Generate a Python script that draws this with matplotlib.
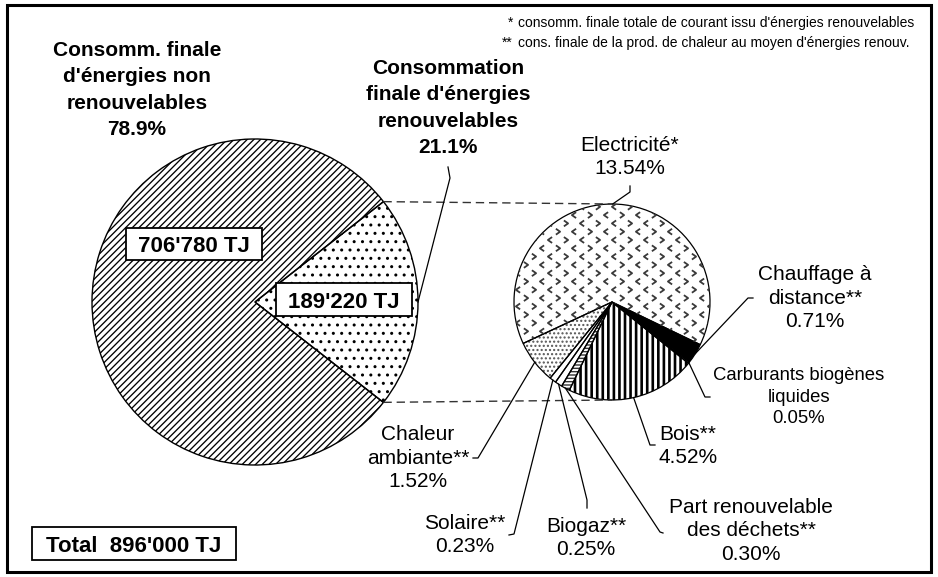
import numpy as np
import matplotlib.pyplot as plt
from matplotlib.patches import Rectangle
from matplotlib.path import Path

plt.rcParams['font.family'] = ['Liberation Sans', 'DejaVu Sans']

# final consumption split (TJ)
total_labels = ["Consomm. finale\nd'énergies non\nrenouvelables\n78.9%",
                "Consommation\nfinale d'énergies\nrenouvelables\n21.1%"]
total_values = [706780, 189220]
total_boxes = ["706'780 TJ", "189'220 TJ"]
grand_total = "Total  896'000 TJ"

# renewable part, % of total final consumption
renew_names = ["Electricité*", "Chauffage à\ndistance**", "Carburants biogènes\nliquides",
               "Bois**", "Part renouvelable\ndes déchets**", "Biogaz**", "Solaire**",
               "Chaleur\nambiante**"]
renew_pct = [13.54, 0.71, 0.05, 4.52, 0.30, 0.25, 0.23, 1.52]

notes = ["consomm. finale totale de courant issu d'énergies renouvelables",
         "cons. finale de la prod. de chaleur au moyen d'énergies renouv."]

W, H = 938, 577


def Y(y):
    # image row -> data y
    return H - y


fig = plt.figure(figsize=(W / 100, H / 100), dpi=100)
ax = fig.add_axes([0, 0, 1, 1])

big_c, big_r = (255, Y(302)), 163
small_c, small_r = (612, Y(302)), 98

# big pie: fill then outline
big_fill, _ = ax.pie(total_values, center=big_c, radius=big_r, startangle=38,
                     wedgeprops=dict(linewidth=0), frame=True)
ax.pie(total_values, center=big_c, radius=big_r, startangle=38, frame=True,
       wedgeprops=dict(facecolor='none', edgecolor='black', linewidth=1))
big_style = [('/////', 'black', 0.95), ('..', 'black', 1.0)]
for w, (h, col, lw) in zip(big_fill, big_style):
    w.set_facecolor('white')
    w.set_edgecolor(col)
    w.set_hatch(h)
    if hasattr(w, 'set_hatch_linewidth'):
        w.set_hatch_linewidth(lw)

# small pie
small_fill, _ = ax.pie(renew_pct, center=small_c, radius=small_r, startangle=205,
                       counterclock=False, wedgeprops=dict(linewidth=0), frame=True)
small_out, _ = ax.pie(renew_pct, center=small_c, radius=small_r, startangle=205,
                      counterclock=False, frame=True,
                      wedgeprops=dict(facecolor='none', edgecolor='black', linewidth=0.9))
small_style = [(None, 'white', 'black', 1.0), (None, 'black', 'black', 1.0),
               (None, 'white', 'black', 1.0), ('|||', 'white', 'black', 1.9),
               ('-----', 'white', '#333333', 1.0), (None, 'white', 'black', 1.0),
               (None, 'white', 'black', 1.0), ('....', 'white', '#555555', 1.0)]
for w, (h, fc, ec, lw) in zip(small_fill, small_style):
    w.set_facecolor(fc)
    w.set_edgecolor(ec)
    if h:
        w.set_hatch(h)
        if hasattr(w, 'set_hatch_linewidth'):
            w.set_hatch_linewidth(lw)

# chevron pattern for electricity
right = Path([(-0.5, 0.7), (0.5, 0), (-0.5, -0.7)], [Path.MOVETO, Path.LINETO, Path.LINETO])
left = Path([(0.5, 0.7), (-0.5, 0), (0.5, -0.7)], [Path.MOVETO, Path.LINETO, Path.LINETO])
px, py, kind = [], [], []
for j, yy in enumerate(np.arange(small_c[1] - 104, small_c[1] + 104, 8.3)):
    for i, xx in enumerate(np.arange(small_c[0] - 110 + (j % 2) * 8, small_c[0] + 110, 16)):
        px.append(xx)
        py.append(yy)
        kind.append((i + j) % 2)
px, py, kind = np.array(px), np.array(py), np.array(kind)
for k, mk in [(0, right), (1, left)]:
    sel = kind == k
    sc = ax.scatter(px[sel], py[sel], marker=mk, s=18, facecolors='none',
                    edgecolors='#3a3a3a', linewidths=1.3, zorder=3)
    sc.set_clip_path(small_fill[0])

# dashed connectors between the two pies
for sgn in (1, -1):
    a = np.deg2rad(38 * sgn)
    ax.plot([big_c[0] + big_r * np.cos(a), small_c[0]],
            [big_c[1] + big_r * np.sin(a), small_c[1] + sgn * small_r],
            color='#333333', lw=1, ls=(0, (6, 3.5)), zorder=4)


def mid_point(w, c, r):
    t = np.deg2rad((w.theta1 + w.theta2) / 2)
    return c[0] + r * np.cos(t), c[1] + r * np.sin(t)


def leader(elbow, anchor):
    xs = [p[0] for p in elbow] + [anchor[0]]
    ys = [Y(p[1]) for p in elbow] + [anchor[1]]
    ax.plot(xs, ys, color='black', lw=0.9, zorder=5)


# big pie labels
ax.text(137, Y(90), total_labels[0], ha='center', va='center', fontsize=15,
        fontweight='bold', linespacing=1.5)
ax.text(448, Y(108), total_labels[1], ha='center', va='center', fontsize=15,
        fontweight='bold', linespacing=1.5)
leader([(448, 167), (450, 178)], mid_point(big_fill[1], big_c, big_r))

for (x0, y0, bw, bh), txt in zip([(126, 228, 136, 32), (276, 283, 136, 33)], total_boxes):
    ax.add_patch(Rectangle((x0, Y(y0 + bh)), bw, bh, facecolor='white',
                           edgecolor='black', lw=1.3, zorder=6))
    ax.text(x0 + bw / 2, Y(y0 + bh / 2), txt, ha='center', va='center_baseline',
            fontsize=16, fontweight='bold', zorder=7)

ax.add_patch(Rectangle((32, Y(560)), 204, 33, facecolor='white', edgecolor='black',
                       lw=1.3, zorder=6))
ax.text(134, Y(543.5), grand_total, ha='center', va='center_baseline', fontsize=16,
        fontweight='bold', zorder=7)

# small pie labels: text centre, font size, elbow of leader line
small_layout = [((630, 157), 15, [(630, 186), (630, 192)]),
                ((815, 298), 15, [(753, 298), (748, 298)]),
                ((799, 397), 13.3, [(710, 397), (705, 397)]),
                ((688, 446), 15, [(655, 445), (650, 445)]),
                ((751, 531), 15, [(663, 533), (660, 532)]),
                ((586, 538), 15, [(587, 508), (587, 500)]),
                ((465, 535), 15, [(509, 535), (514, 534)]),
                ((418, 458), 15, [(473, 458), (478, 458)])]
for name, pct, w, ((tx, ty), fs, elbow) in zip(renew_names, renew_pct, small_fill, small_layout):
    ax.text(tx, Y(ty), '%s\n%.2f%%' % (name, pct), ha='center', va='center',
            fontsize=fs, linespacing=1.33)
    leader(elbow, mid_point(w, small_c, small_r))

# footnotes
for stars, note, yy in zip(['*', '**'], notes, [23, 43]):
    ax.text(513, Y(yy), stars, ha='right', va='center', fontsize=10)
    ax.text(518, Y(yy), note, ha='left', va='center', fontsize=10)

# frame around the whole picture
ax.add_patch(Rectangle((7, Y(572)), 924, 567, facecolor='none', edgecolor='black',
                       lw=2.2, zorder=8))

ax.set_xlim(0, W)
ax.set_ylim(0, H)
ax.set_aspect('equal')
ax.axis('off')

fig.savefig('out.png', dpi=100)
